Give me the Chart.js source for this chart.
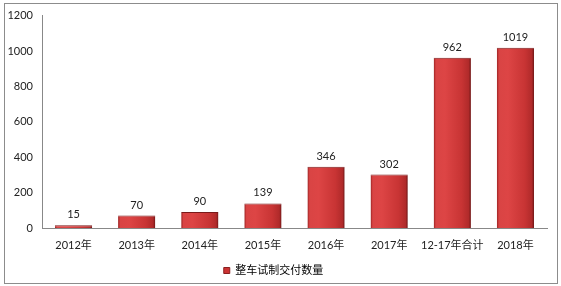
<!DOCTYPE html>
<html>
<head>
<meta charset="utf-8">
<script src="https://cdn.jsdelivr.net/npm/chart.js@4/dist/chart.umd.min.js"></script>
<style>
  html, body { margin: 0; padding: 0; background: #fff; }
  #wrap { position: relative; width: 561px; height: 286px; }
  #frame { position: absolute; left: 4px; top: 3px; width: 552px; height: 279px; border: 1px solid #8c8c8c; }
  canvas { position: absolute; left: 0; top: 0; }
</style>
</head>
<body>
<div id="wrap">
  <div id="frame"></div>
  <canvas id="c" width="561" height="286"></canvas>
</div>
<script>
const categories = ['2012年', '2013年', '2014年', '2015年', '2016年', '2017年', '12-17年合计', '2018年'];
const deliveries = [15, 70, 90, 139, 346, 302, 962, 1019];
const seriesName = '整车试制交付数量';
const yTicks = [0, 200, 400, 600, 800, 1000, 1200];

const FONT = 'Lato, "Noto Sans CJK SC", sans-serif';
const BAR_PCT = 0.59;

// horizontal shading across each bar for a rounded, lit look
function barFill(ctx) {
  const chart = ctx.chart;
  const xs = chart.scales.x;
  if (!xs || !chart.chartArea) return '#cc3535';
  const cx = xs.getPixelForValue(ctx.dataIndex);
  const w = (xs.width / categories.length) * BAR_PCT;
  const g = chart.ctx.createLinearGradient(cx - w / 2, 0, cx + w / 2, 0);
  g.addColorStop(0, '#9a2222');
  g.addColorStop(0.06, '#d94444');
  g.addColorStop(0.3, '#dd4545');
  g.addColorStop(0.75, '#c83434');
  g.addColorStop(0.94, '#b02a2a');
  g.addColorStop(1, '#6e1616');
  return g;
}

const valueLabels = {
  id: 'valueLabels',
  afterDatasetsDraw(chart) {
    const c = chart.ctx;
    const meta = chart.getDatasetMeta(0);
    c.save();
    c.font = '11px ' + FONT;
    c.fillStyle = '#222';
    c.textAlign = 'center';
    c.textBaseline = 'bottom';
    meta.data.forEach((bar, i) => {
      c.fillText(String(deliveries[i]), bar.x, bar.y - 5);
    });
    c.restore();
  }
};

new Chart(document.getElementById('c'), {
  type: 'bar',
  data: {
    labels: categories,
    datasets: [{
      label: seriesName,
      data: deliveries,
      backgroundColor: barFill,
      borderColor: '#7a1a1a',
      borderWidth: { top: 1, left: 0, right: 0, bottom: 0 },
      borderSkipped: 'bottom',
      barPercentage: BAR_PCT,
      categoryPercentage: 1.0
    }]
  },
  options: {
    responsive: false,
    animation: false,
    layout: { padding: { left: 0, right: 14, top: 10, bottom: 0 } },
    plugins: {
      legend: {
        position: 'bottom',
        labels: {
          font: { size: 11, family: FONT },
          color: '#222',
          boxWidth: 6,
          boxHeight: 6,
          padding: 10,
          generateLabels: () => [{
            text: seriesName,
            fillStyle: '#cc3333',
            strokeStyle: '#8a1f1f',
            lineWidth: 1,
            datasetIndex: 0
          }]
        }
      },
      tooltip: { enabled: false }
    },
    scales: {
      x: {
        grid: { display: false, drawTicks: false },
        border: { display: true, color: '#888', width: 1 },
        ticks: { font: { size: 11, family: FONT }, color: '#222', padding: 11, maxRotation: 0, autoSkip: false },
        afterFit(s) { s.height = 27; }
      },
      y: {
        min: 0,
        max: 1200,
        afterBuildTicks(s) { s.ticks = yTicks.map(v => ({ value: v })); },
        grid: { display: false, drawTicks: false },
        border: { display: true, color: '#888', width: 1 },
        ticks: { font: { size: 11, family: FONT }, color: '#222', padding: 9, callback: (v) => String(v) },
        afterFit(s) { s.width = 42; }
      }
    }
  },
  plugins: [valueLabels]
});
</script>
</body>
</html>
